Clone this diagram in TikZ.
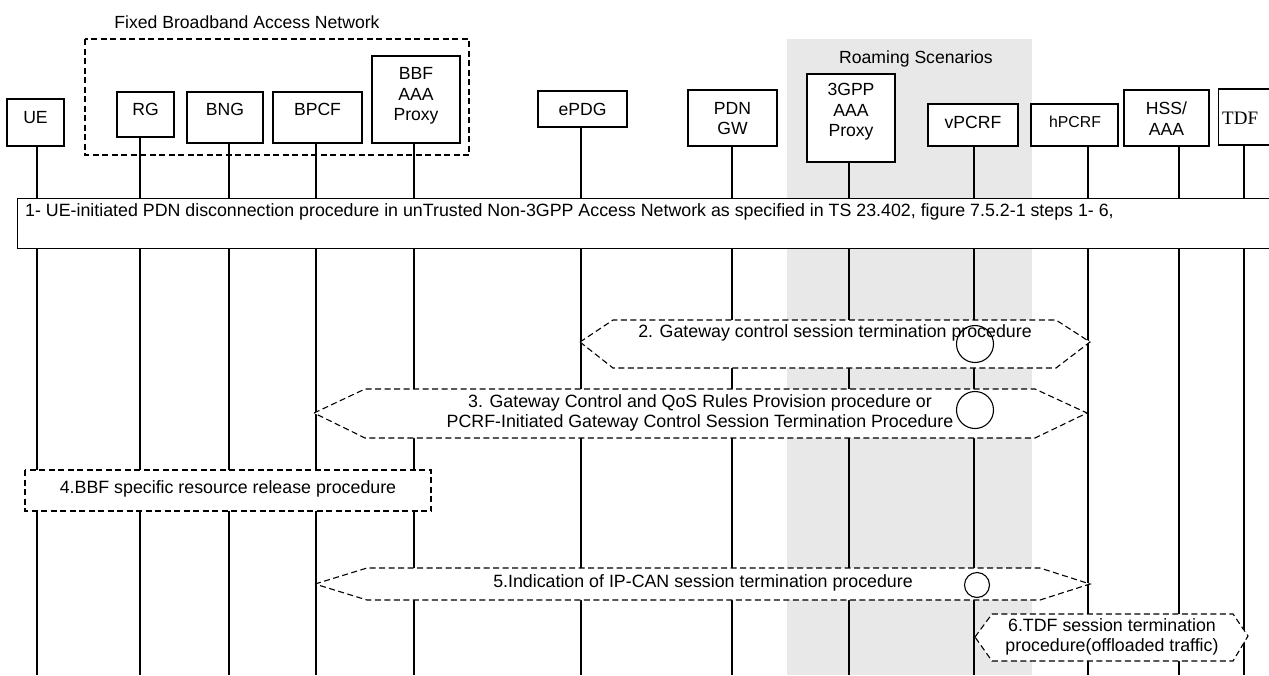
\documentclass[tikz,border=0pt]{standalone}
\usepackage{fontspec}
\setmainfont{Liberation Sans}
\newfontfamily\serifTDF{Liberation Serif}
\definecolor{roam}{RGB}{232,232,232}
\newcommand{\lf}{\fontsize{17.6}{20.4}\selectfont}
\newcommand{\mf}{\fontsize{17.8}{20.2}\selectfont}
\begin{document}
\begin{tikzpicture}[x=1pt,y=-1pt,
  box/.style={draw, fill=white, line width=1.1pt, inner sep=0pt},
  sz/.style 2 args={minimum width=#1, minimum height=#2},
  lbl/.style={inner sep=0pt, align=center, font=\lf},
  mlbl/.style={inner sep=0pt, align=center, font=\mf},
  life/.style={line width=1.1pt},
  dsh/.style={draw, fill=white, line width=1.1pt, dash pattern=on 6pt off 3.5pt},
  circ/.style={draw, line width=1.1pt, circle, inner sep=0pt}]
\useasboundingbox (0,0) rectangle (1269,675);
\clip (0,0) rectangle (1269,675);
% roaming area
\fill[roam] (787,39) rectangle (1032,675);
\node[lbl] (roamt) at (916,59) {Roaming Scenarios};
% fixed broadband frame
\draw[line width=1.1pt, dash pattern=on 6pt off 3.5pt] (85,39) rectangle (469,155);
\node[lbl] (fbt) at (247,22) {Fixed Broadband Access Network};
% entity boxes
\node[box, sz={57}{47}] (ue) at (35.5,122.5) {};
\node[box, sz={57}{45}] (rg) at (145.5,114.5) {};
\node[box, sz={76}{51}] (bng) at (225,117.5) {};
\node[box, sz={89}{51}] (bpcf) at (317.5,117.5) {};
\node[box, sz={88}{87}] (bbf) at (416,99.5) {};
\node[box, sz={89}{36}] (epdg) at (582.5,109) {};
\node[box, sz={89}{56}] (pdn) at (732.5,118) {};
\node[box, sz={88}{88}] (gpp) at (851,118) {};
\node[box, sz={90}{42}] (vpcrf) at (973,125) {};
\node[box, sz={87}{42}] (hpcrf) at (1074.5,125) {};
\node[box, sz={85}{56}] (hss) at (1166.5,118) {};
\node[box, sz={90}{56}, anchor=west] (tdf) at (1218,117) {};
% box labels
\node[lbl] (uet) at (35.5,118) {UE};
\node[lbl] (rgt) at (145.5,109.5) {RG};
\node[lbl] (bngt) at (225,109.5) {BNG};
\node[lbl] (bpcft) at (317.5,109.5) {BPCF};
\node[lbl] (bbft) at (416,96) {BBF\\AAA\\Proxy};
\node[lbl] (epdgt) at (582.5,109) {ePDG};
\node[lbl] (pdnt) at (732.5,118.5) {PDN\\GW};
\node[lbl] (gppt) at (851,112) {3GPP\\AAA\\Proxy};
\node[lbl] (vpcrft) at (973,122.5) {vPCRF};
\node[lbl, font=\fontsize{15.8}{18}\selectfont] (hpcrft) at (1075,121.5) {hPCRF};
\node[lbl] (hsst) at (1166.5,118.5) {HSS/\\AAA};
\node[lbl, font=\serifTDF\fontsize{19}{22}\selectfont, anchor=west] (tdft) at (1222,118) {TDF};
% lifelines
\foreach \n/\x in {ue/37,rg/140,bng/229,bpcf/316,bbf/414,epdg/581,pdn/732,gpp/849,vpcrf/974,hpcrf/1088,hss/1179,tdf/1244}{
  \coordinate (\n end) at (\x,675);
  \draw[life] (\n end |- \n.south) -- (\n end);
}
% message 1
\node[box, sz={1280}{50}, anchor=north west] (m1) at (17,198) {};
\node[mlbl, anchor=west] (m1t) at (25,212) {1- UE-initiated PDN disconnection procedure in unTrusted Non-3GPP Access Network as specified in TS 23.402, figure 7.5.2-1 steps 1- 6,};
% message 2
\path[dsh] (580,342) -- (613,320) -- (1056,320) -- (1090,342) -- (1056,368) -- (613,368) -- cycle;
\node[mlbl] (m2t) at (835,333) {2. Gateway control session termination procedure};
\node[circ, minimum size=37] (c2) at (975,344) {};
% message 3
\path[dsh] (314,413) -- (365,389) -- (1035,389) -- (1087,413) -- (1035,438) -- (365,438) -- cycle;
\node[mlbl] (m3t) at (700,412.5) {3. Gateway Control and QoS Rules Provision procedure or\\PCRF-Initiated Gateway Control Session Termination Procedure};
\node[circ, minimum size=37] (c3) at (975,410) {};
% message 4
\path[dsh] (25,470) rectangle (431,511);
\node[mlbl] (m4t) at (228,489) {4.BBF specific resource release procedure};
% message 5
\path[dsh] (315,584) -- (367,568) -- (1040,568) -- (1090,584) -- (1040,600) -- (367,600) -- cycle;
\node[mlbl] (m5t) at (703,583) {5.Indication of IP-CAN session termination procedure};
\node[circ, minimum size=25] (c5) at (977,585) {};
% message 6
\path[dsh] (975,637) -- (992,614) -- (1233,614) -- (1248,636) -- (1233,661) -- (992,661) -- cycle;
\node[mlbl] (m6t) at (1112,637) {6.TDF session termination\\procedure(offloaded traffic)};
\end{tikzpicture}
\end{document}
